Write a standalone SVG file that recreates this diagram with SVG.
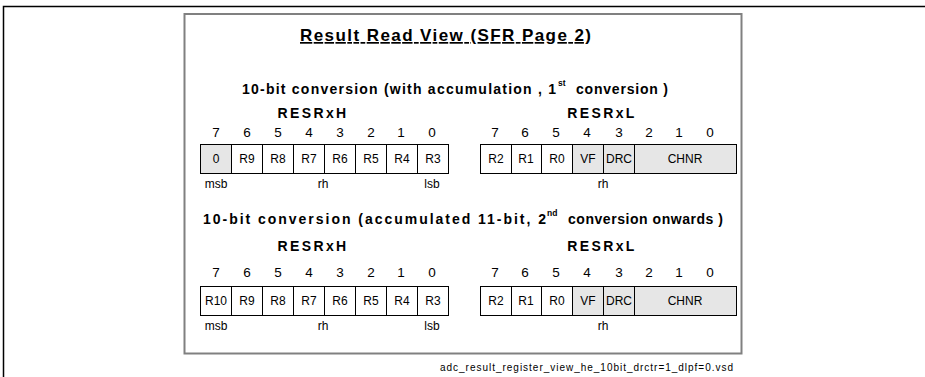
<svg xmlns="http://www.w3.org/2000/svg" width="925" height="377" viewBox="0 0 925 377">
<style>
text{font-family:"Liberation Sans",Arial,sans-serif;fill:#000}
.title{font-size:17px;font-weight:bold;text-decoration:underline}
.sub{font-size:14px;font-weight:bold}
.sup{font-size:8.5px;font-weight:bold}
.reg{font-size:14px;font-weight:bold;letter-spacing:2.4px;text-anchor:middle}
.num{font-size:13.5px;text-anchor:middle}
.cell{font-size:12px;text-anchor:middle}
.lbl{font-size:12px;text-anchor:middle}
.fn{font-size:10px}
.c{fill:#fff;stroke:#000;stroke-width:1}
.g{fill:#e6e6e6;stroke:#000;stroke-width:1}
</style>
<rect x="0" y="0" width="925" height="377" fill="#fff"/>
<g id="frame">
<path d="M3.5 377 V6.5 H925" fill="none" stroke="#000" stroke-width="1.5"/>
<rect x="184.5" y="14" width="557" height="339.5" fill="#fff" stroke="#808080" stroke-width="2"/>
</g>
<g id="title">
<text class="title" x="300" y="41" textLength="291" lengthAdjust="spacing">Result Read View  (SFR Page 2)</text>
</g>
<g id="section1">
<text class="sub" x="242" y="94" textLength="314" lengthAdjust="spacing">10-bit conversion (with accumulation , 1</text>
<text class="sup" x="558" y="86">st</text>
<text class="sub" x="576" y="94" textLength="92" lengthAdjust="spacing">conversion )</text>
</g>
<g id="reg1H">
<text class="reg" x="313" y="118">RESRxH</text>
<text class="num" x="216" y="137">7</text><text class="num" x="247" y="137">6</text><text class="num" x="278" y="137">5</text><text class="num" x="309" y="137">4</text><text class="num" x="340" y="137">3</text><text class="num" x="371" y="137">2</text><text class="num" x="401" y="137">1</text><text class="num" x="432" y="137">0</text>
<rect class="g" x="200.5" y="144.5" width="31" height="29"/>
<rect class="c" x="231.5" y="144.5" width="31" height="29"/>
<rect class="c" x="262.5" y="144.5" width="31" height="29"/>
<rect class="c" x="293.5" y="144.5" width="31" height="29"/>
<rect class="c" x="324.5" y="144.5" width="31" height="29"/>
<rect class="c" x="355.5" y="144.5" width="31" height="29"/>
<rect class="c" x="386.5" y="144.5" width="31" height="29"/>
<rect class="c" x="417.5" y="144.5" width="31" height="29"/>
<text class="cell" x="216" y="163">0</text><text class="cell" x="247" y="163">R9</text><text class="cell" x="278" y="163">R8</text><text class="cell" x="309" y="163">R7</text><text class="cell" x="340" y="163">R6</text><text class="cell" x="371" y="163">R5</text><text class="cell" x="402" y="163">R4</text><text class="cell" x="433" y="163">R3</text>
<text class="lbl" x="216" y="188">msb</text><text class="lbl" x="323" y="188">rh</text><text class="lbl" x="432" y="188">lsb</text>
</g>
<g id="reg1L">
<text class="reg" x="602" y="118">RESRxL</text>
<text class="num" x="495" y="137">7</text><text class="num" x="525" y="137">6</text><text class="num" x="556" y="137">5</text><text class="num" x="587" y="137">4</text><text class="num" x="619" y="137">3</text><text class="num" x="649" y="137">2</text><text class="num" x="679" y="137">1</text><text class="num" x="710" y="137">0</text>
<rect class="c" x="480.5" y="144.5" width="31" height="29"/>
<rect class="c" x="511.5" y="144.5" width="30" height="29"/>
<rect class="c" x="541.5" y="144.5" width="31" height="29"/>
<rect class="g" x="572.5" y="144.5" width="31" height="29"/>
<rect class="g" x="603.5" y="144.5" width="31" height="29"/>
<rect class="g" x="634.5" y="144.5" width="102" height="29"/>
<text class="cell" x="496" y="163">R2</text><text class="cell" x="526" y="163">R1</text><text class="cell" x="557" y="163">R0</text><text class="cell" x="588" y="163">VF</text><text class="cell" x="619" y="163">DRC</text><text class="cell" x="685" y="163">CHNR</text>
<text class="lbl" x="603" y="188">rh</text>
</g>
<g id="section2">
<text class="sub" x="203" y="224" textLength="343" lengthAdjust="spacing">10-bit conversion (accumulated 11-bit, 2</text>
<text class="sup" x="547" y="216">nd</text>
<text class="sub" x="568" y="224" textLength="155" lengthAdjust="spacing">conversion onwards )</text>
</g>
<g id="reg2H">
<text class="reg" x="313" y="251">RESRxH</text>
<text class="num" x="216" y="277">7</text><text class="num" x="247" y="277">6</text><text class="num" x="278" y="277">5</text><text class="num" x="309" y="277">4</text><text class="num" x="340" y="277">3</text><text class="num" x="371" y="277">2</text><text class="num" x="401" y="277">1</text><text class="num" x="432" y="277">0</text>
<rect class="c" x="200.5" y="286.5" width="31" height="29"/>
<rect class="c" x="231.5" y="286.5" width="31" height="29"/>
<rect class="c" x="262.5" y="286.5" width="31" height="29"/>
<rect class="c" x="293.5" y="286.5" width="31" height="29"/>
<rect class="c" x="324.5" y="286.5" width="31" height="29"/>
<rect class="c" x="355.5" y="286.5" width="31" height="29"/>
<rect class="c" x="386.5" y="286.5" width="31" height="29"/>
<rect class="c" x="417.5" y="286.5" width="31" height="29"/>
<text class="cell" x="216" y="305">R10</text><text class="cell" x="247" y="305">R9</text><text class="cell" x="278" y="305">R8</text><text class="cell" x="309" y="305">R7</text><text class="cell" x="340" y="305">R6</text><text class="cell" x="371" y="305">R5</text><text class="cell" x="402" y="305">R4</text><text class="cell" x="433" y="305">R3</text>
<text class="lbl" x="216" y="330">msb</text><text class="lbl" x="323" y="330">rh</text><text class="lbl" x="432" y="330">lsb</text>
</g>
<g id="reg2L">
<text class="reg" x="602" y="251">RESRxL</text>
<text class="num" x="495" y="277">7</text><text class="num" x="525" y="277">6</text><text class="num" x="556" y="277">5</text><text class="num" x="587" y="277">4</text><text class="num" x="619" y="277">3</text><text class="num" x="649" y="277">2</text><text class="num" x="679" y="277">1</text><text class="num" x="710" y="277">0</text>
<rect class="c" x="480.5" y="286.5" width="31" height="29"/>
<rect class="c" x="511.5" y="286.5" width="30" height="29"/>
<rect class="c" x="541.5" y="286.5" width="31" height="29"/>
<rect class="g" x="572.5" y="286.5" width="31" height="29"/>
<rect class="g" x="603.5" y="286.5" width="31" height="29"/>
<rect class="g" x="634.5" y="286.5" width="102" height="29"/>
<text class="cell" x="496" y="305">R2</text><text class="cell" x="526" y="305">R1</text><text class="cell" x="557" y="305">R0</text><text class="cell" x="588" y="305">VF</text><text class="cell" x="619" y="305">DRC</text><text class="cell" x="685" y="305">CHNR</text>
<text class="lbl" x="603" y="330">rh</text>
</g>
<g id="filename">
<text class="fn" x="440" y="371" textLength="293" lengthAdjust="spacing">adc_result_register_view_he_10bit_drctr=1_dlpf=0.vsd</text>
</g>
</svg>
